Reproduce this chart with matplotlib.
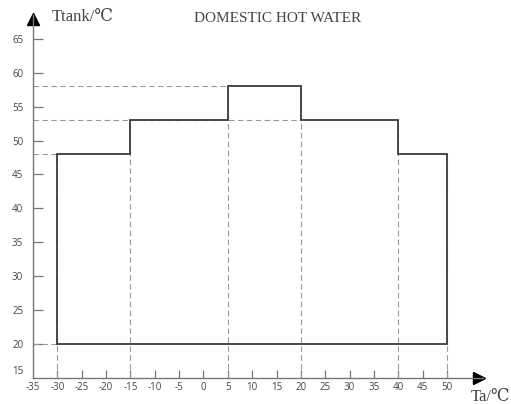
import numpy as np
import matplotlib.pyplot as plt
from matplotlib.transforms import ScaledTranslation

plt.rcParams["axes.unicode_minus"] = False

# operating range of the domestic hot water set point
x_edges = [-30, -15, 5, 20, 40, 50]      # ambient temperature breakpoints, degC
t_tank = [48, 53, 58, 53, 48]            # max tank temperature per band, degC
t_min = 20                               # min tank temperature, degC

# dashed guide lines from the y axis to the curve
guide_levels = [20, 48, 53, 58]
guide_ends = [-30, -30, 20, 5]

x_ticks = list(range(-35, 55, 5))
y_ticks = list(range(15, 70, 5))

x_lo, x_hi = -35, 57.4
y_lo, y_hi = 15, 68.5

AXIS = "#777777"
LINE = "#3c3c3c"
GUIDE = "#9a9a9a"
TEXT = "#444444"

fig = plt.figure(figsize=(5.11, 4.04), dpi=100)
ax = fig.add_axes([33 / 511, 26 / 404, 450 / 511, 363 / 404])
ax.set_xlim(x_lo, x_hi)
ax.set_ylim(y_lo, y_hi)

for side in ("top", "right"):
    ax.spines[side].set_visible(False)
for side in ("left", "bottom"):
    ax.spines[side].set_color(AXIS)
    ax.spines[side].set_linewidth(1.0)

# axis arrows
ax.plot([x_lo], [y_hi - 0.6], marker="^", ms=8, color="black", clip_on=False)
ax.plot([x_hi - 0.9], [y_lo], marker=">", ms=9, color="black", clip_on=False)

dash = (0, (5, 3))

# horizontal guides
for lvl, end in zip(guide_levels, guide_ends):
    ax.plot([x_lo, end], [lvl, lvl], color=GUIDE, lw=0.8, linestyle=dash)

# vertical guides down to the x axis
levels_ext = [t_min] + t_tank + [t_min]
for i, xe in enumerate(x_edges):
    top = max(levels_ext[i], levels_ext[i + 1])
    ax.plot([xe, xe], [y_lo, top], color=GUIDE, lw=0.8, linestyle=dash)

# operating envelope
px = [x_edges[0]]
py = [t_min]
for i, lvl in enumerate(t_tank):
    px += [x_edges[i], x_edges[i + 1]]
    py += [lvl, lvl]
px += [x_edges[-1], x_edges[0]]
py += [t_min, t_min]
ax.plot(px, py, color=LINE, lw=1.3, solid_joinstyle="miter")

# ticks
ax.set_xticks(x_ticks)
ax.set_yticks(y_ticks)
ax.tick_params(axis="both", direction="in", colors=AXIS, labelcolor=TEXT,
               labelsize=7, width=0.9)
ax.tick_params(axis="x", length=6, pad=3)
ax.tick_params(axis="y", length=7, pad=7)
for lab in ax.get_xticklabels() + ax.get_yticklabels():
    lab.set_family(["Open Sans", "DejaVu Sans"])
# hide the tick marks that sit on the axes
ax.xaxis.get_major_ticks()[0].tick1line.set_visible(False)
ax.yaxis.get_major_ticks()[0].tick1line.set_visible(False)
# lift the "15" label off the x axis
lab15 = ax.get_yticklabels()[0]
lab15.set_transform(lab15.get_transform() + ScaledTranslation(0, 8 / 100, fig.dpi_scale_trans))

serif = ["Liberation Serif", "DejaVu Serif"]
fig.text(52 / 511, 1 - 17 / 404, "Ttank/℃", family=serif, fontsize=12,
         color=TEXT, ha="left", va="center")
fig.text(278 / 511, 1 - 18 / 404, "DOMESTIC HOT WATER", family=serif,
         fontsize=11, color=TEXT, ha="center", va="center")
fig.text(471 / 511, 1 - 397 / 404, "Ta/℃", family=serif, fontsize=12,
         color=TEXT, ha="left", va="center")

fig.savefig("out.png", dpi=100)
